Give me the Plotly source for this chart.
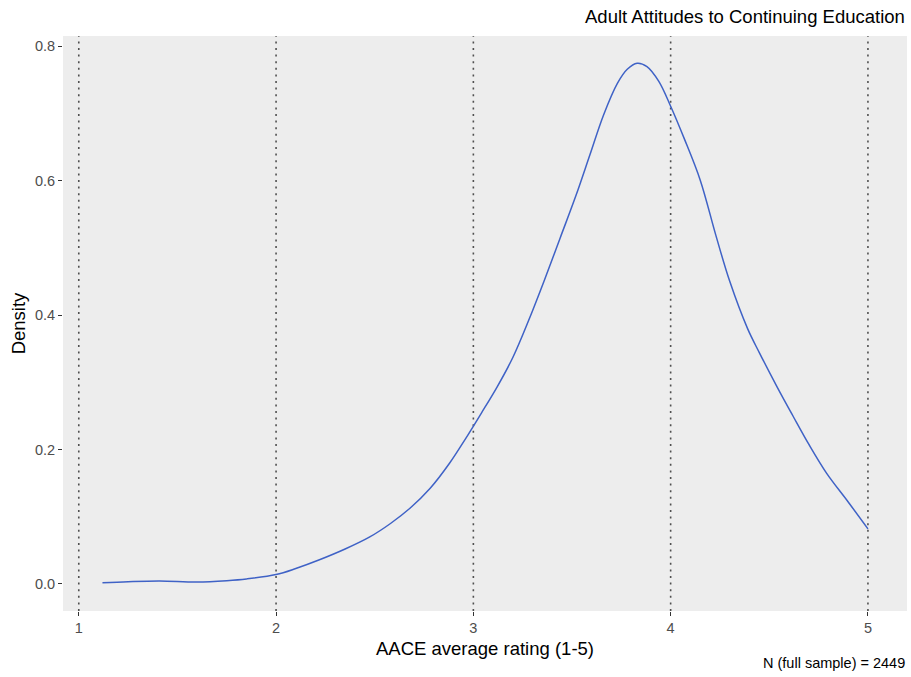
import plotly.graph_objects as go

# Kernel density estimate of the AACE average rating (1-5)
rating = [1.12, 1.25, 1.41, 1.60, 1.75, 1.85, 2.00, 2.10, 2.22, 2.35, 2.475,
          2.58, 2.68, 2.78, 2.88, 2.96, 3.04, 3.12, 3.20, 3.28, 3.36, 3.44,
          3.52, 3.59, 3.66, 3.73, 3.78, 3.83, 3.88, 3.94, 4.00, 4.07, 4.15,
          4.23, 4.30, 4.39, 4.45, 4.54, 4.62, 4.70, 4.79, 4.90, 5.00]
density = [0.002, 0.0035, 0.0045, 0.003, 0.005, 0.0075, 0.014, 0.023, 0.036,
           0.052, 0.070, 0.090, 0.113, 0.142, 0.180, 0.216, 0.254, 0.293,
           0.337, 0.392, 0.452, 0.515, 0.578, 0.638, 0.698, 0.745, 0.766,
           0.775, 0.770, 0.748, 0.711, 0.662, 0.601, 0.518, 0.450, 0.380,
           0.344, 0.293, 0.250, 0.208, 0.165, 0.122, 0.082]

# Reference lines at each scale point
ref_lines = [1, 2, 3, 4, 5]

x_ticks = [1, 2, 3, 4, 5]
y_ticks = [0.0, 0.2, 0.4, 0.6, 0.8]

title_text = "Adult Attitudes to Continuing Education"
x_title = "AACE average rating (1-5)"
y_title = "Density"
caption_text = "N (full sample) = 2449"

FONT = "Liberation Sans, Arial, Helvetica, sans-serif"

fig = go.Figure()

for v in ref_lines:
    fig.add_shape(type="line", xref="x", yref="paper", x0=v, x1=v, y0=0, y1=1,
                  line=dict(color="#505050", width=1.6, dash="2px,4.6px"),
                  layer="below")

fig.add_trace(go.Scatter(
    x=rating, y=density, mode="lines",
    line=dict(color="#3F62C6", width=1.5, shape="spline", smoothing=1.0),
    hoverinfo="x+y", showlegend=False,
))

fig.update_layout(
    width=911, height=677,
    margin=dict(l=63, r=4, t=36, b=66),
    paper_bgcolor="white",
    plot_bgcolor="#EDEDED",
    font=dict(family=FONT, color="#222222"),
    showlegend=False,
    annotations=[
        dict(text=title_text, xref="paper", yref="paper", x=1, y=1,
             xanchor="right", yanchor="bottom", yshift=7, showarrow=False,
             font=dict(size=18.5, color="black", family=FONT)),
        dict(text=caption_text, xref="paper", yref="paper", x=1, y=0,
             xanchor="right", yanchor="top", yshift=-42, showarrow=False,
             font=dict(size=14.5, color="black", family=FONT)),
    ],
)

fig.update_xaxes(
    range=[0.92, 5.198], tickvals=x_ticks, ticktext=[str(t) for t in x_ticks],
    showgrid=False, zeroline=False, showline=False,
    ticks="outside", ticklen=4, tickwidth=1.1, tickcolor="#333333",
    tickfont=dict(size=14.5, color="#4D4D4D"),
    title=dict(text=x_title, font=dict(size=18.5, color="black"), standoff=6),
    automargin=False,
)
fig.update_yaxes(
    range=[-0.0402, 0.8155], tickvals=y_ticks,
    ticktext=[f"{t:.1f}" for t in y_ticks],
    showgrid=False, zeroline=False, showline=False,
    ticks="outside", ticklen=4, tickwidth=1.1, tickcolor="#333333",
    tickfont=dict(size=14.5, color="#4D4D4D"),
    title=dict(text=y_title, font=dict(size=18.5, color="black"), standoff=4),
    automargin=False,
)

fig.write_html("out.html")
